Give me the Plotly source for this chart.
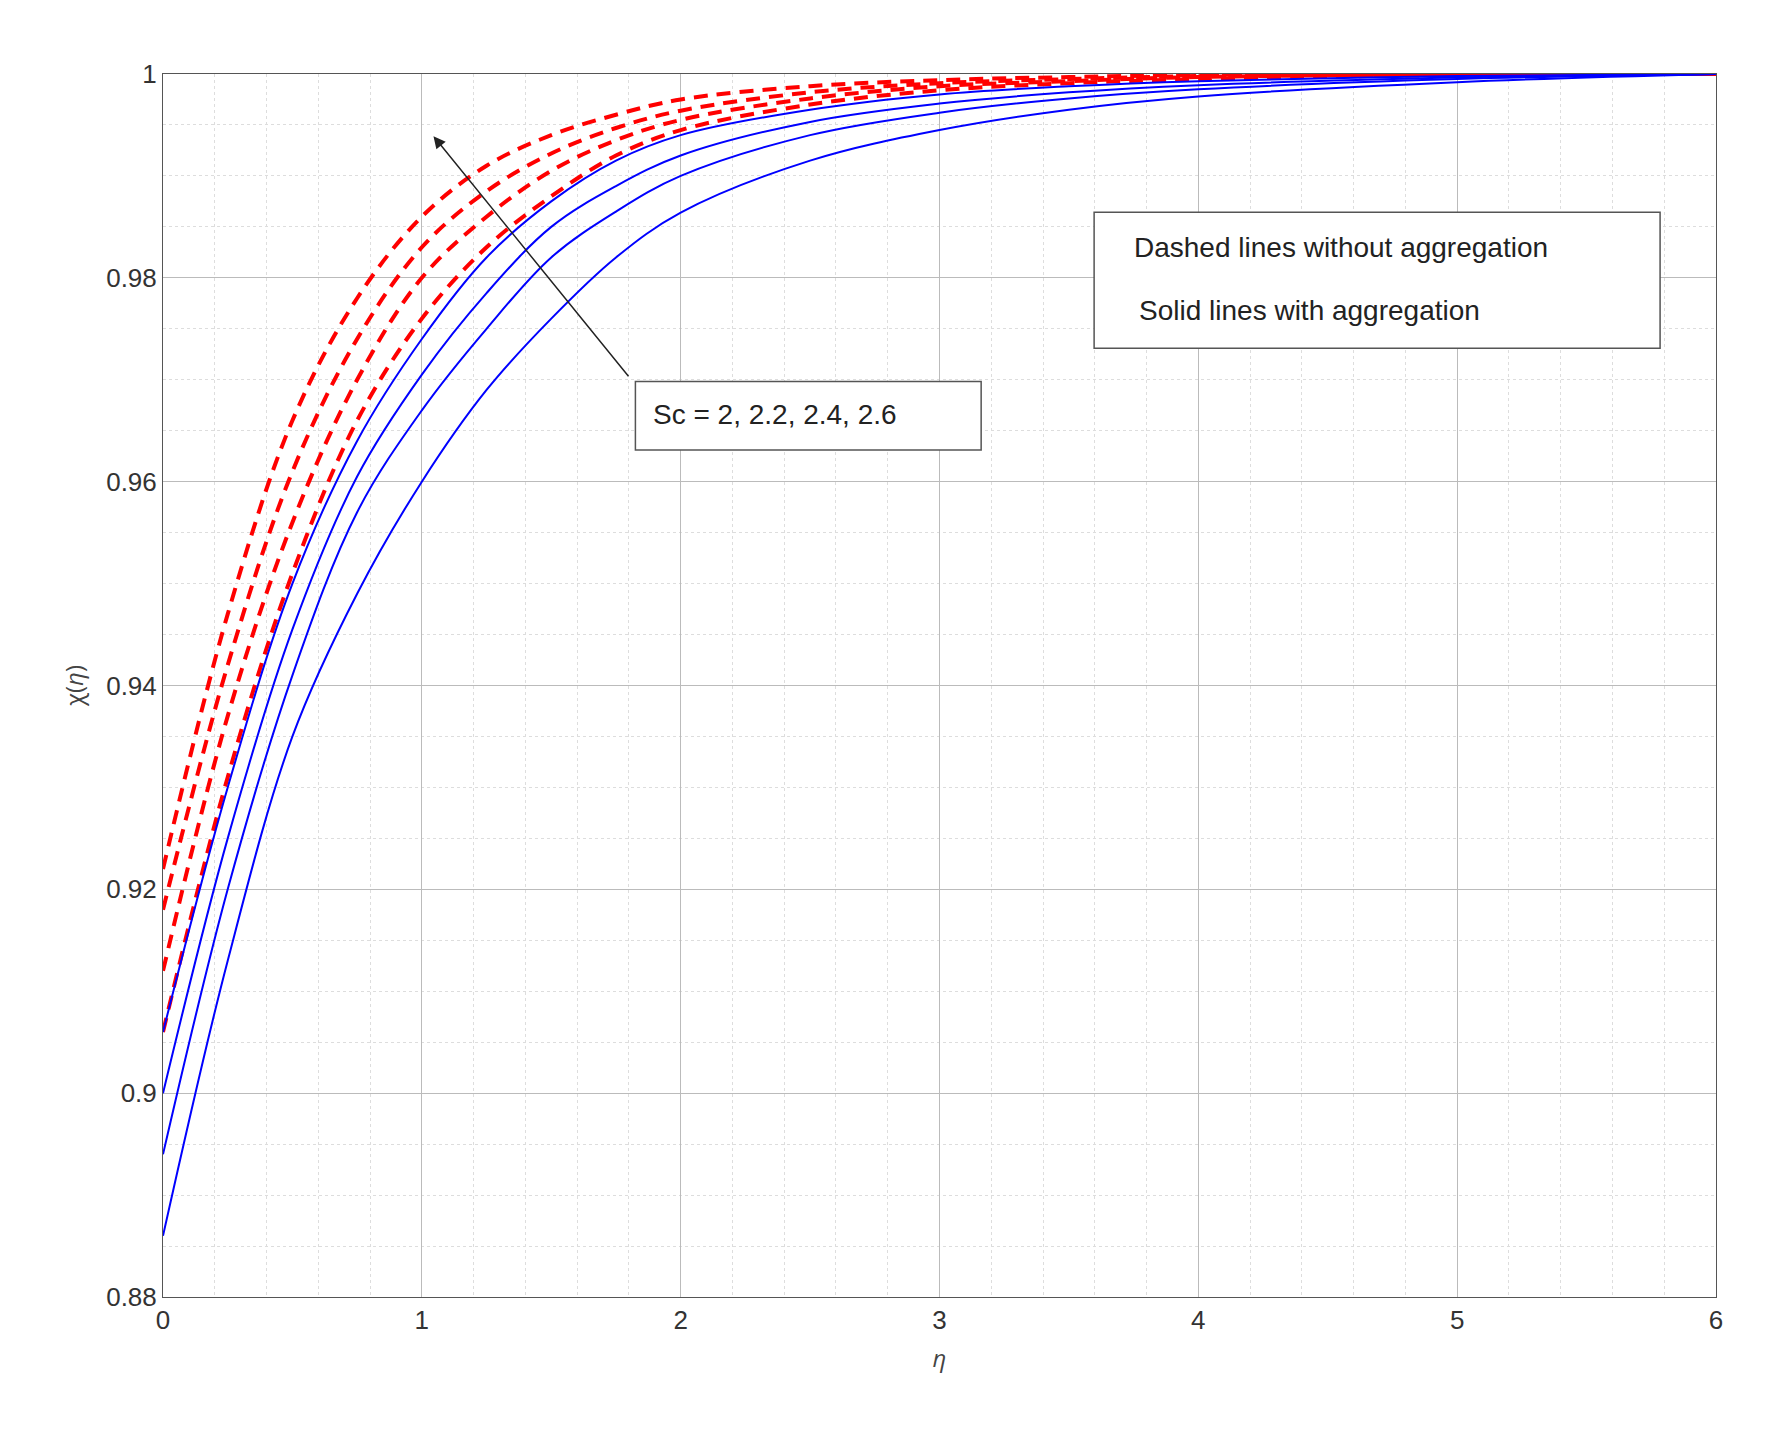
import plotly.graph_objects as go

eta = [0, 0.25, 0.5, 0.75, 1, 1.25, 1.5, 1.75, 2, 2.5, 3, 3.5, 4, 5, 6]
red_curves = [
    [0.922, 0.947, 0.966, 0.978, 0.986, 0.991, 0.994, 0.996, 0.9975, 0.9988, 0.9994, 0.9997, 0.9999, 1.0, 1.0],
    [0.918, 0.942, 0.961, 0.974, 0.983, 0.9885, 0.9922, 0.9947, 0.9964, 0.9982, 0.9991, 0.9995, 0.9998, 1.0, 1.0],
    [0.912, 0.937, 0.956, 0.970, 0.980, 0.986, 0.9905, 0.9935, 0.9955, 0.9976, 0.9988, 0.9993, 0.9997, 0.99995, 1.0],
    [0.906, 0.931, 0.951, 0.966, 0.976, 0.983, 0.988, 0.992, 0.9945, 0.997, 0.9984, 0.9991, 0.9995, 0.9999, 1.0],
]
blue_curves = [
    [0.906, 0.930, 0.950, 0.964, 0.974, 0.982, 0.9875, 0.9915, 0.994, 0.9965, 0.998, 0.9988, 0.9993, 0.9998, 1.0],
    [0.900, 0.925, 0.9455, 0.9605, 0.9705, 0.9785, 0.985, 0.989, 0.992, 0.9953, 0.9971, 0.9982, 0.9989, 0.99965, 1.0],
    [0.894, 0.920, 0.941, 0.957, 0.967, 0.975, 0.982, 0.9865, 0.990, 0.994, 0.9962, 0.9976, 0.9985, 0.9995, 1.0],
    [0.886, 0.913, 0.935, 0.949, 0.960, 0.969, 0.976, 0.982, 0.9864, 0.9915, 0.9945, 0.9965, 0.9978, 0.9992, 1.0],
]

fig = go.Figure()
for c in red_curves:
    fig.add_trace(go.Scatter(x=eta, y=c, mode="lines", line=dict(color="red", width=4, dash="14px,9px", shape="spline", smoothing=1.0), showlegend=False))
for c in blue_curves:
    fig.add_trace(go.Scatter(x=eta, y=c, mode="lines", line=dict(color="blue", width=2, shape="spline", smoothing=1.0), showlegend=False))

axis_common = dict(showline=True, linecolor="#555", mirror=True, ticks="", gridcolor="#bbb", gridwidth=1,
                   zeroline=False, tickfont=dict(size=26, color="#333", family="Liberation Sans"))
fig.update_xaxes(range=[0, 6], dtick=1, title=dict(text="<i>η</i>", font=dict(size=24, color="#444")),
                 minor=dict(dtick=0.2, showgrid=True, gridcolor="#ddd", griddash="dot"), **axis_common)
fig.update_yaxes(range=[0.88, 1.0], dtick=0.02, tickformat="~g", title=dict(text="χ(<i>η</i>)", font=dict(size=24, color="#444")),
                 minor=dict(dtick=0.005, showgrid=True, gridcolor="#ddd", griddash="dot"), **axis_common)

def px(x):
    return (x - 141) / 1361
def py(y):
    return (1134 - y) / 1070

fnt = dict(size=28, color="#222", family="Liberation Sans")
fig.add_shape(type="rect", xref="paper", yref="paper", x0=px(957), x1=px(1453), y0=py(304), y1=py(185),
              line=dict(color="#555", width=1.5), fillcolor="white")
fig.add_annotation(xref="paper", yref="paper", x=px(990), y=py(216), xanchor="left", yanchor="middle",
                   text="Dashed lines without aggregation", showarrow=False, font=fnt)
fig.add_annotation(xref="paper", yref="paper", x=px(995), y=py(271), xanchor="left", yanchor="middle",
                   text="Solid lines with aggregation", showarrow=False, font=fnt)
fig.add_shape(type="rect", xref="paper", yref="paper", x0=px(555), x1=px(858), y0=py(393), y1=py(333),
              line=dict(color="#555", width=1.5), fillcolor="white")
fig.add_annotation(xref="paper", yref="paper", x=px(569), y=py(362), xanchor="left", yanchor="middle",
                   text="Sc = 2, 2.2, 2.4, 2.6", showarrow=False, font=fnt)
fig.add_annotation(x=1.045, y=0.9939, ax=1.803, ay=0.9702, axref="x", ayref="y", text="", showarrow=True,
                   arrowhead=2, arrowsize=1.6, arrowwidth=1.5, arrowcolor="#222")

fig.update_layout(width=1792, height=1444, margin=dict(l=155, r=84, t=66, b=155),
                  plot_bgcolor="white", paper_bgcolor="white")
fig.write_html("out.html")
